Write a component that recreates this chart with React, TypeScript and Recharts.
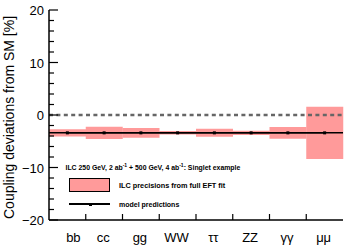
import { ComposedChart, Bar, Line, XAxis, YAxis, ReferenceLine } from "recharts";

const categories = ["bb", "cc", "gg", "WW", "ττ", "ZZ", "γγ", "μμ"];
// model predictions (singlet example, universal shift) in %
const modelPrediction = [-3.4, -3.4, -3.4, -3.4, -3.4, -3.4, -3.4, -3.4];
// ILC 1-sigma precision (half width of band) in %
const ilcPrecision = [0.7, 1.17, 0.92, 0.33, 0.76, 0.41, 1.1, 4.98];
const yTicks = [-20, -18, -16, -14, -12, -10, -8, -6, -4, -2, 0, 2, 4, 6, 8, 10, 12, 14, 16, 18, 20];

const PINK = "#ff9a9a";
const FONT = "'Liberation Sans', Arial, sans-serif";
const PLOT_W = 294;
const BAND = PLOT_W / categories.length;

const data = categories.map((name, i) => ({
  name,
  model: modelPrediction[i],
  band: [modelPrediction[i] - ilcPrecision[i], modelPrediction[i] + ilcPrecision[i]],
}));

const fmt = (v: number) => (v < 0 ? "\u2212" + Math.abs(v) : String(v));

function LeftTick({ x, y, payload }: any) {
  const v = payload.value;
  const major = v % 10 === 0;
  return (
    <g>
      <line x1={x} x2={x + (major ? 9 : 5)} y1={y} y2={y} stroke="#000" strokeWidth={1.2} />
      {major && (
        <text x={x - 5} y={y} dy={5} textAnchor="end" fontSize={13} fontFamily={FONT} fill="#000">
          {fmt(v)}
        </text>
      )}
    </g>
  );
}

function RightTick({ x, y, payload }: any) {
  const major = payload.value % 10 === 0;
  return <line x1={x} x2={x - (major ? 10 : 5)} y1={y} y2={y} stroke="#000" strokeWidth={1.2} />;
}

function BottomTick({ x, y, payload, index }: any) {
  return (
    <g>
      {index < categories.length - 1 && (
        <line x1={x + BAND / 2} x2={x + BAND / 2} y1={y} y2={y - 6} stroke="#000" strokeWidth={1.2} />
      )}
      <text x={x + (index === 0 ? 6 : -1)} y={y + 22} textAnchor="middle" fontSize={13} fontFamily={FONT} fill="#000">
        {payload.value}
      </text>
    </g>
  );
}

function TopTick({ x, y, index }: any) {
  if (index >= categories.length - 1) return <g />;
  return <line x1={x + BAND / 2} x2={x + BAND / 2} y1={y} y2={y + 6} stroke="#000" strokeWidth={1.2} />;
}

const legendText = { position: "absolute" as const, fontWeight: "bold" as const, whiteSpace: "nowrap" as const };
const supStyle = { fontSize: 5, lineHeight: 0 };

export default function App() {
  return (
    <div style={{ position: "absolute", left: 0, top: 0, width: 349, height: 246, background: "#fff", fontFamily: FONT }}>
      <ComposedChart
        width={349}
        height={246}
        data={data}
        margin={{ top: 10, right: 6, bottom: 0, left: 0 }}
        barCategoryGap={0}
        barGap={0}
      >
        <XAxis
          dataKey="name"
          height={26}
          axisLine={{ stroke: "#000", strokeWidth: 1.5 }}
          tickLine={false}
          tickSize={0}
          tickMargin={0}
          interval={0}
          tick={<BottomTick />}
        />
        <XAxis
          xAxisId="top"
          dataKey="name"
          orientation="top"
          height={0}
          axisLine={{ stroke: "#000", strokeWidth: 1.5 }}
          tickLine={false}
          tickSize={0}
          tickMargin={0}
          interval={0}
          tick={<TopTick />}
        />
        <YAxis
          domain={[-20, 20]}
          ticks={yTicks}
          interval={0}
          width={49}
          axisLine={{ stroke: "#000", strokeWidth: 1.5 }}
          tickLine={false}
          tickSize={0}
          tickMargin={0}
          tick={<LeftTick />}
          label={{
            value: "Coupling deviations from SM [%]",
            angle: -90,
            position: "insideLeft",
            dx: 4,
            dy: 104,
            style: { fontSize: 14, fontFamily: FONT, fill: "#000", textAnchor: "start" },
          }}
        />
        <YAxis
          yAxisId="right"
          orientation="right"
          domain={[-20, 20]}
          ticks={yTicks}
          interval={0}
          width={0}
          axisLine={{ stroke: "#000", strokeWidth: 1.5 }}
          tickLine={false}
          tickSize={0}
          tickMargin={0}
          tick={<RightTick />}
        />
        <Bar dataKey="band" fill={PINK} isAnimationActive={false} />
        <ReferenceLine y={modelPrediction[0]} stroke="#000" strokeWidth={1.5} />
        <ReferenceLine y={0} stroke="#666" strokeWidth={2.5} strokeDasharray="4 3.4" />
        <Line
          xAxisId="top"
          yAxisId="right"
          dataKey="model"
          stroke="#000"
          strokeWidth={1.5}
          dot={(p: any) => <rect key={p.index} x={p.cx - 1.5} y={p.cy - 1.5} width={3} height={3} fill="#000" />}
          isAnimationActive={false}
        />
      </ComposedChart>
      <div style={{ ...legendText, left: 65.5, top: 162.5, fontSize: 6.9, lineHeight: "9px" }}>
        ILC 250 GeV, 2 ab<sup style={supStyle}>-1</sup> + 500 GeV, 4 ab<sup style={supStyle}>-1</sup>: Singlet example
      </div>
      <div style={{ position: "absolute", left: 69, top: 178, width: 41, height: 14, background: PINK, border: "1px solid #000", boxSizing: "border-box" }} />
      <div style={{ ...legendText, left: 119, top: 181, fontSize: 7.3, lineHeight: "9px" }}>
        ILC precisions from full EFT fit
      </div>
      <div style={{ position: "absolute", left: 69, top: 203.3, width: 41, height: 1.3, background: "#000" }} />
      <div style={{ position: "absolute", left: 88.5, top: 202.5, width: 3, height: 3, background: "#000" }} />
      <div style={{ ...legendText, left: 119, top: 199.5, fontSize: 7, lineHeight: "9px" }}>
        model predictions
      </div>
    </div>
  );
}
